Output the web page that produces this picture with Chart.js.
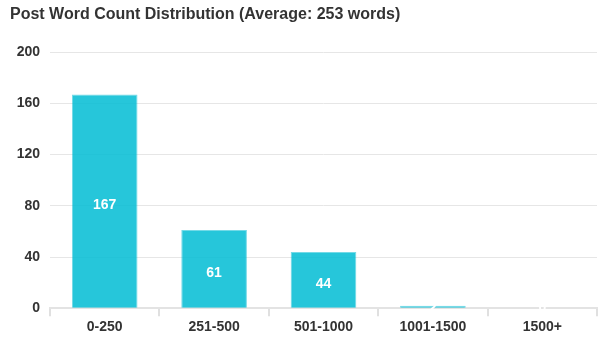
<!DOCTYPE html>
<html>
<head>
<meta charset="utf-8">
<script src="https://cdn.jsdelivr.net/npm/chart.js@4"></script>
<style>
  html, body { margin: 0; padding: 0; background: #fff; }
  #wrap { width: 606px; height: 350px; position: relative; }
</style>
</head>
<body>
<div id="wrap"><canvas id="wordChart"></canvas></div>
<script>
const categories = ['0-250', '251-500', '501-1000', '1001-1500', '1500+'];
const postCounts = [167, 61, 44, 2, 0];
const yTicks = [0, 40, 80, 120, 160, 200];

// draws the count in the middle of each bar (slightly below centre, like the original)
const barValueLabels = {
    id: 'barValueLabels',
    afterDatasetsDraw(chart) {
        const ctx = chart.ctx;
        const meta = chart.getDatasetMeta(0);
        ctx.save();
        ctx.fillStyle = '#ffffff';
        ctx.font = 'bold 14px "Liberation Sans", Arial, sans-serif';
        ctx.textAlign = 'center';
        ctx.textBaseline = 'middle';
        meta.data.forEach((bar, i) => {
            const y = (bar.y + bar.base) / 2 + 4;
            ctx.fillText(String(postCounts[i]), bar.x, Math.min(y, bar.base));
        });
        ctx.restore();
    }
};

const ctx = document.getElementById('wordChart').getContext('2d');
new Chart(ctx, {
    type: 'bar',
    data: {
        labels: categories,
        datasets: [{
            label: 'Posts',
            data: postCounts,
            backgroundColor: 'rgba(0,188,212,0.85)',
            borderColor: 'rgba(0,188,212,0.55)',
            borderWidth: 1,
            barPercentage: 0.6,
            categoryPercentage: 1.0
        }]
    },
    options: {
        responsive: true,
        maintainAspectRatio: false,
        animation: false,
        layout: { padding: { left: 10, right: 9, top: 0, bottom: 11 } },
        plugins: {
            legend: { display: false },
            tooltip: { enabled: false },
            title: {
                display: true,
                text: 'Post Word Count Distribution (Average: 253 words)',
                align: 'start',
                color: '#333333',
                font: { family: '"Liberation Sans", Arial, sans-serif', size: 16, weight: 'bold' },
                padding: { top: 5, bottom: 28 }
            }
        },
        scales: {
            x: {
                grid: {
                    offset: true,
                    drawOnChartArea: false,
                    drawTicks: true,
                    tickLength: 8,
                    color: '#e0e0e0',
                    lineWidth: 2
                },
                border: { color: '#e3e3e3', width: 2 },
                ticks: {
                    color: '#333333',
                    padding: 3,
                    font: { family: '"Liberation Sans", Arial, sans-serif', size: 14, weight: 'bold' }
                }
            },
            y: {
                min: 0,
                max: 200,
                afterBuildTicks(axis) {
                    axis.ticks = yTicks.map(v => ({ value: v }));
                },
                afterFit(axis) {
                    axis.width = 40;
                },
                grid: {
                    color: '#e6e6e6',
                    drawTicks: false
                },
                border: { display: false },
                ticks: {
                    color: '#333333',
                    padding: 10,
                    font: { family: '"Liberation Sans", Arial, sans-serif', size: 14, weight: 'bold' }
                }
            }
        }
    },
    plugins: [barValueLabels]
});
</script>
</body>
</html>
